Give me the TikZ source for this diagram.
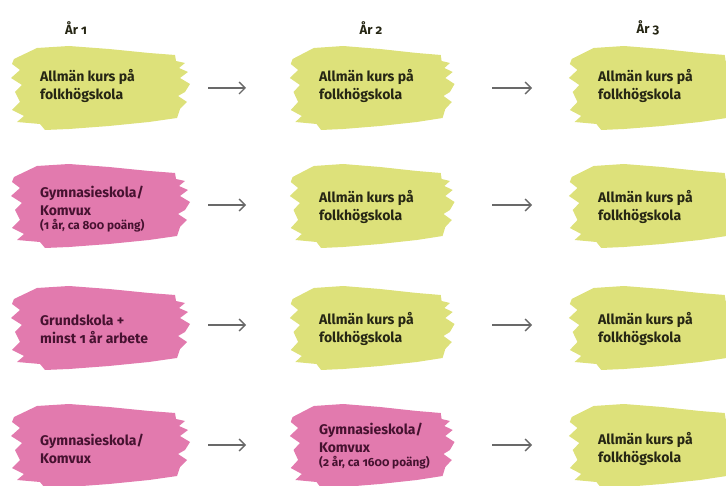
\documentclass[tikz,border=0pt]{standalone}
\usepackage{fontspec}
\setmainfont{Fira Sans}[Numbers=OldStyle]
\usetikzlibrary{arrows.meta}
\definecolor{yel}{RGB}{221,225,122}
\definecolor{pnk}{RGB}{226,122,174}
\definecolor{ytxt}{RGB}{38,38,20}
\definecolor{ptxt}{RGB}{70,18,48}
\definecolor{arr}{RGB}{105,105,105}
\newcommand{\subtxt}[1]{{\fontsize{11.8}{13}\selectfont #1}}
\tikzset{
  blob/.pic={
    \fill[pic actions] (5,14) -- (28,3) -- (60,1) -- (100,4) -- (140,8) -- (166,10) -- (167,16) -- (176,18) -- (170,23) -- (179,27) -- (171,33) -- (181,39) -- (176,47) -- (169,51) -- (178,57) -- (171,64) -- (168,73) -- (140,77) -- (100,81) -- (60,84) -- (36,85) -- (31,79) -- (8,77) -- (15,71) -- (3,65) -- (11,57) -- (6,47) -- (13,40) -- (2,33) -- (11,25) -- (3,19) -- cycle;
  },
  lbl/.style={anchor=west, align=left, font=\bfseries\fontsize{14}{18}\selectfont, inner sep=0pt},
  ylbl/.style={lbl, text=ytxt},
  plbl/.style={lbl, text=ptxt},
  head/.style={font=\bfseries\fontsize{13}{15}\selectfont, text=ytxt, inner sep=0pt},
  flow/.style={arr, line width=1.3pt, -{Straight Barb[length=6pt,width=12pt,line width=1.3pt]}}
}
\begin{document}
\begin{tikzpicture}[x=1pt,y=-1pt]
\useasboundingbox (0,0) rectangle (726,486);
\clip (0,0) rectangle (726,486);
% headings
\node[head] (h1) at (76,28) {År 1};
\node[head] (h2) at (371,28) {År 2};
\node[head] (h3) at (648,28) {År 3};
% blobs
\foreach \y/\ca/\cb in {45/yel/yel, 163/pnk/yel, 285/pnk/yel, 403/pnk/pnk}{
  \pic[fill=\ca] at (9,\y) {blob};
  \pic[fill=\cb, xscale=0.92] at (288,\y) {blob};
  \pic[fill=yel, xscale=0.95] at (567,\y) {blob};
}
% row 1
\node[ylbl] (r1a) at (40,86) {Allmän kurs på\\folkhögskola};
\node[ylbl] (r1b) at (319,86) {Allmän kurs på\\folkhögskola};
\node[ylbl] (r1c) at (598,86) {Allmän kurs på\\folkhögskola};
% row 2
\node[plbl] (r2a) at (40,209) {Gymnasieskola/\\Komvux\\[-4pt]\subtxt{(1 år, ca 800 poäng)}};
\node[ylbl] (r2b) at (319,207) {Allmän kurs på\\folkhögskola};
\node[ylbl] (r2c) at (598,207) {Allmän kurs på\\folkhögskola};
% row 3
\node[plbl] (r3a) at (40,329) {Grundskola +\\minst 1 år arbete};
\node[ylbl] (r3b) at (319,329) {Allmän kurs på\\folkhögskola};
\node[ylbl] (r3c) at (598,329) {Allmän kurs på\\folkhögskola};
% row 4
\node[plbl] (r4a) at (40,449) {Gymnasieskola/\\Komvux};
\node[plbl] (r4b) at (319,446) {Gymnasieskola/\\Komvux\\[-4pt]\subtxt{(2 år, ca 1600 poäng)}};
\node[ylbl] (r4c) at (598,449) {Allmän kurs på\\folkhögskola};
% arrow endpoints
\foreach \r/\y in {1/88,2/205,3/325,4/445}{
  \coordinate (s\r a) at (208,\y);
  \coordinate (e\r a) at (246,\y);
  \coordinate (s\r b) at (492,\y);
  \coordinate (e\r b) at (532,\y);
  \draw[flow] (s\r a) -- (e\r a);
  \draw[flow] (s\r b) -- (e\r b);
}
\end{tikzpicture}
\end{document}
